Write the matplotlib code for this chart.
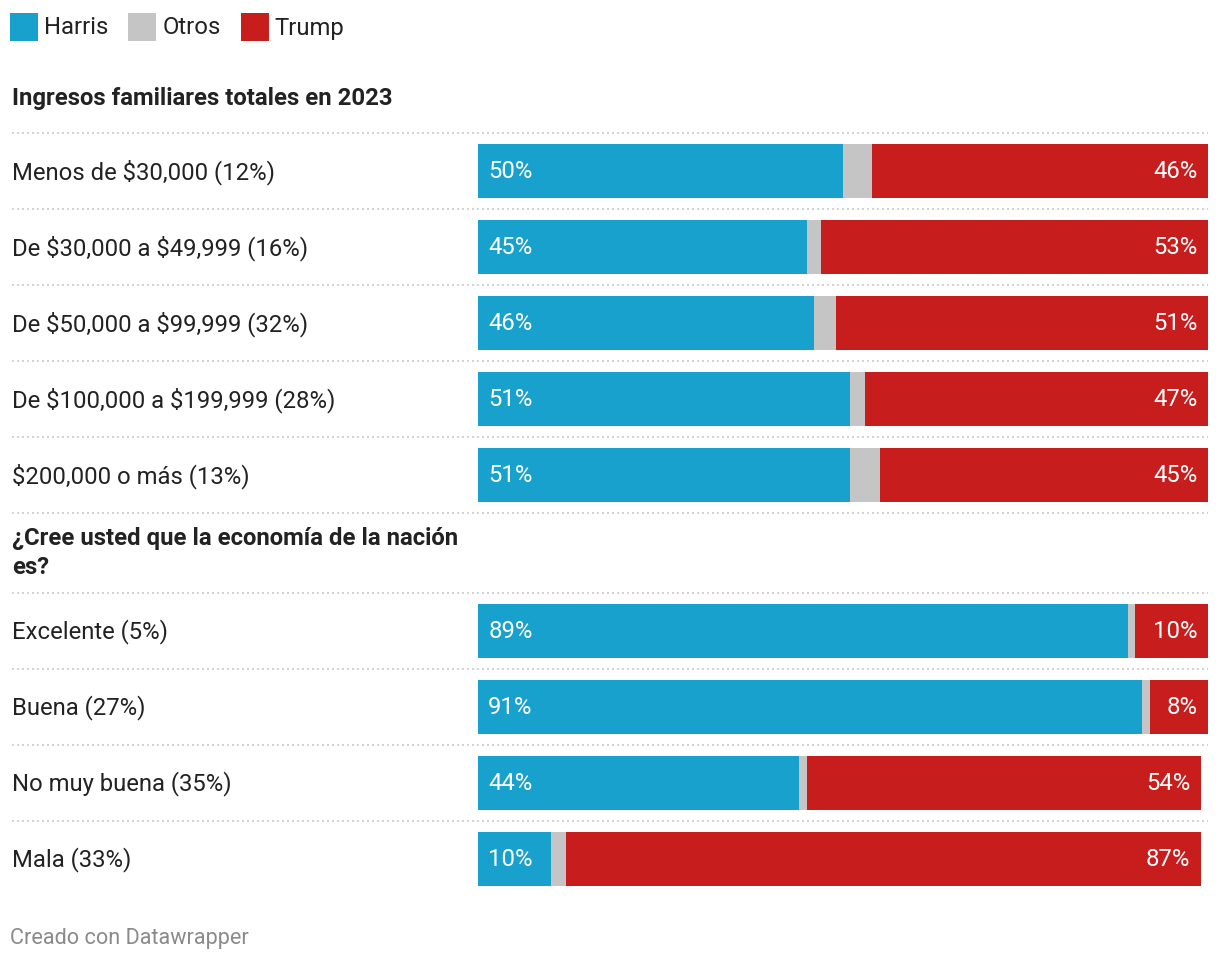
import matplotlib
matplotlib.use("Agg")
import matplotlib.pyplot as plt
from matplotlib.patches import Rectangle

plt.rcParams["font.family"] = ["Roboto", "DejaVu Sans"]
plt.rcParams["text.parse_math"] = False

# Datos
TITULO_1 = "Ingresos familiares totales en 2023"
ingresos = [
    "Menos de $30,000 (12%)",
    "De $30,000 a $49,999 (16%)",
    "De $50,000 a $99,999 (32%)",
    "De $100,000 a $199,999 (28%)",
    "$200,000 o más (13%)",
]
harris_ingresos = [50, 45, 46, 51, 51]
otros_ingresos = [4, 2, 3, 2, 4]
trump_ingresos = [46, 53, 51, 47, 45]

TITULO_2 = "¿Cree usted que la economía de la nación\nes?"
economia = ["Excelente (5%)", "Buena (27%)", "No muy buena (35%)", "Mala (33%)"]
harris_economia = [89, 91, 44, 10]
otros_economia = [1, 1, 1, 2]
trump_economia = [10, 8, 54, 87]

SERIES = ["Harris", "Otros", "Trump"]
COLORES = ["#18a1cd", "#c5c5c5", "#c71e1d"]

W, H = 1220, 962
BAR_X0, BAR_W = 478, 730
FILA = 76
ALTO_BARRA = 54
GRIS_LINEA = "#d3d3d3"
TEXTO = "#222222"
FS = 17.2


def main() -> None:
    fig = plt.figure(figsize=(W / 100, H / 100), dpi=100)
    fondo = fig.add_axes([0, 0, 1, 1])
    fondo.set_xlim(0, W)
    fondo.set_ylim(H, 0)
    fondo.axis("off")

    barras = fig.add_axes([BAR_X0 / W, 0, BAR_W / W, 1])
    barras.set_xlim(0, 100)
    barras.set_ylim(H, 0)
    barras.axis("off")

    # leyenda
    x = 10
    for nombre, color in zip(SERIES, COLORES):
        fondo.add_patch(Rectangle((x, 14), 28, 28, color=color, lw=0))
        t = fondo.text(x + 34, 28, nombre, fontsize=FS, color=TEXTO, va="center")
        fig.canvas.draw()
        bb = t.get_window_extent()
        x = bb.x1 + 20

    def linea(y):
        fondo.plot([12, 1208], [y, y], color=GRIS_LINEA, lw=1.44,
                   linestyle=(0, (1, 1.5)), solid_capstyle="butt")

    def seccion(titulo, cats, h, o, t, y_titulo, y_linea):
        fondo.text(12, y_titulo, titulo, fontsize=FS, fontweight="bold",
                   color=TEXTO, va="center", linespacing=1.3)
        for i, cat in enumerate(cats):
            linea(y_linea + i * FILA)
            yc = y_linea + FILA / 2 + i * FILA
            fondo.text(12, yc, cat, fontsize=FS, color=TEXTO, va="center")
            izq = 0
            for val, color in zip((h[i], o[i], t[i]), COLORES):
                barras.barh(yc, val, left=izq, height=ALTO_BARRA, color=color, lw=0)
                izq += val
            barras.text(1.4, yc, f"{h[i]}%", color="white", fontsize=FS,
                        va="center", ha="left")
            barras.text(izq - 1.4, yc, f"{t[i]}%", color="white", fontsize=FS,
                        va="center", ha="right")
        return y_linea + len(cats) * FILA

    fin = seccion(TITULO_1, ingresos, harris_ingresos, otros_ingresos,
                  trump_ingresos, 98, 134)
    linea(fin)
    seccion(TITULO_2, economia, harris_economia, otros_economia,
            trump_economia, fin + 39, fin + 80)

    fondo.text(10, 939, "Creado con Datawrapper", fontsize=15.6, color="#8a8a8a",
               va="center")

    fig.savefig("out.png", dpi=100, facecolor="white")
    plt.close(fig)


if __name__ == "__main__":
    main()
